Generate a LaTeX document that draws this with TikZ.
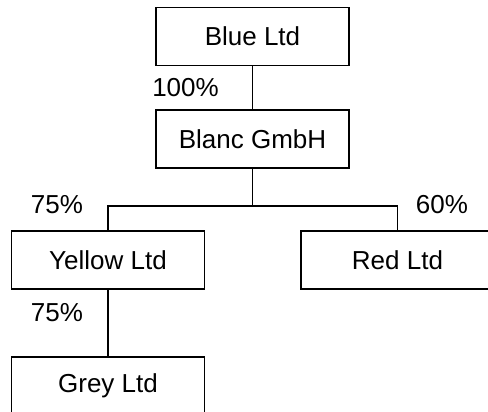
\documentclass[tikz,border=0pt]{standalone}
\usepackage{fontspec}
\setmainfont{Liberation Sans}
\usepackage{tikz}
\usetikzlibrary{positioning}

\begin{document}
\begin{tikzpicture}[x=0.5pt, y=-0.5pt, line width=0.9pt,
    font=\fontsize{13}{15}\selectfont,
    entity/.style={draw, minimum width=96.5pt, minimum height=29pt, inner sep=0pt}]
  \useasboundingbox (0,0) rectangle (488,412);

  \node[entity]     (blue)  at (252.5,36.5) {Blue Ltd};
  \node[entity, below=21.5pt of blue]     (blanc)  {Blanc GmbH};
  \node[entity, below=30.5pt of blanc, xshift=-72.25pt]     (yellow)  {Yellow Ltd};
  \node[entity, below=30.5pt of blanc, xshift=72.5pt]     (red)  {Red Ltd};
  \node[entity, below=33pt of yellow]     (grey)  {Grey Ltd};
  \coordinate[below=18.5pt of blanc] (fork);

  \node (p100) at (185.5,88) {100\%};
  \node (p75a) at (57,205) {75\%};
  \node (p60) at (442,205) {60\%};
  \node (p75b) at (57,313) {75\%};

  \draw[-] (blue) --  (blanc);
  \draw[-] (blanc) --  (fork);
  \draw[-] (fork) -| (yellow);
  \draw[-] (fork) -| (red);
  \draw[-] (yellow) --  (grey);
\end{tikzpicture}
\end{document}
